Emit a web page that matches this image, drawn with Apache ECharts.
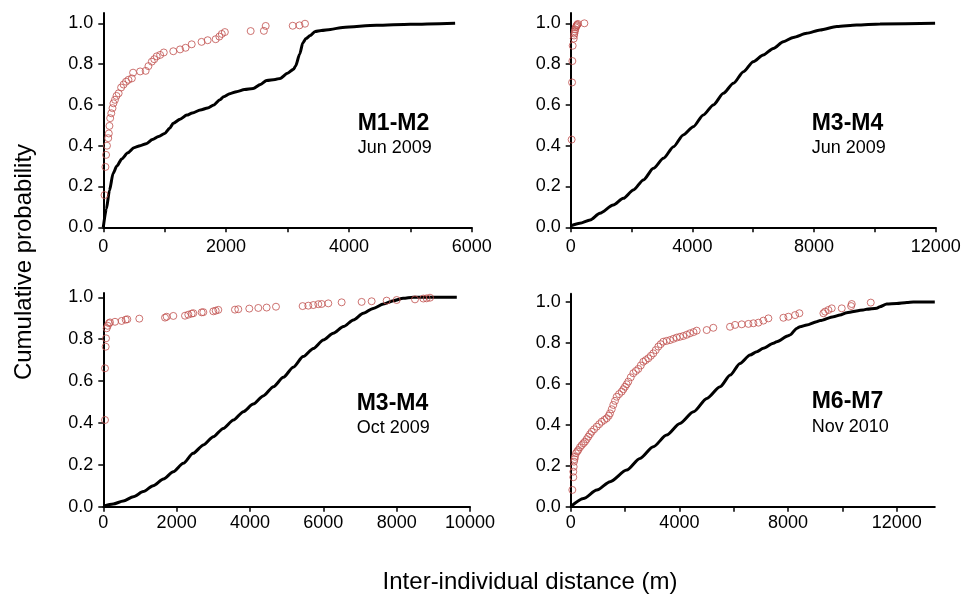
<!DOCTYPE html>
<html><head><meta charset="utf-8">
<script src="https://cdn.jsdelivr.net/npm/echarts@6/dist/echarts.min.js"></script>
<style>html,body{margin:0;padding:0;background:#fff}#c{width:970px;height:597px}</style>
</head><body><div id="c"></div>
<script>
// ---- Panel A: M1-M2 Jun 2009 ----
var aCurveX = [0,50,100,160,220,300,400,500,600,700,800,900,1000,1080,1140,1250,1360,1450,1580,1700,1800,1900,1960,2060,2170,2300,2440,2560,2660,2800,2880,3000,3100,3130,3200,3250,3300,3370,3450,3550,3700,3900,4450,5000,5730];
var aCurveY = [0,0.09,0.18,0.265,0.30,0.335,0.365,0.39,0.40,0.41,0.43,0.445,0.46,0.485,0.51,0.53,0.55,0.56,0.575,0.585,0.60,0.625,0.64,0.655,0.665,0.675,0.68,0.70,0.72,0.725,0.73,0.755,0.775,0.79,0.85,0.905,0.925,0.94,0.96,0.965,0.97,0.98,0.99,0.995,1.0];
var aDotX = [20,35,45,60,80,90,100,112,130,150,165,190,215,250,290,330,370,410,465,485,600,690,735,790,830,870,925,985,1140,1250,1340,1440,1600,1700,1830,1890,1930,1980,2400,2615,2645,3085,3195,3285];
var aDotY = [0.158,0.296,0.355,0.40,0.437,0.46,0.497,0.535,0.559,0.584,0.608,0.625,0.644,0.657,0.685,0.70,0.714,0.723,0.73,0.758,0.764,0.767,0.79,0.812,0.824,0.838,0.845,0.857,0.863,0.872,0.88,0.897,0.909,0.917,0.922,0.935,0.948,0.957,0.962,0.963,0.987,0.988,0.99,0.998];

// ---- Panel B: M3-M4 Jun 2009 ----
var bCurveX = [0,300,640,960,1400,1730,2060,2390,2720,3050,3380,3700,4030,4360,4690,5020,5350,5680,6000,6330,6660,6990,7320,7760,8200,8750,9400,10170,11980];
var bCurveY = [0.007,0.02,0.036,0.069,0.109,0.142,0.183,0.232,0.289,0.338,0.395,0.453,0.493,0.551,0.60,0.657,0.706,0.763,0.812,0.845,0.877,0.91,0.931,0.951,0.967,0.984,0.992,0.997,1.0];
var bDotX = [30,45,55,65,100,110,120,135,150,165,185,200,215,235,450];
var bDotY = [0.43,0.71,0.815,0.89,0.925,0.94,0.95,0.96,0.97,0.98,0.985,0.99,0.993,0.997,1.0];

// ---- Panel C: M3-M4 Oct 2009 ----
var cCurveX = [0,270,545,820,1090,1360,1640,1910,2180,2450,2730,3000,3270,3550,3820,4090,4360,4640,4910,5180,5450,5730,6000,6270,6550,6820,7090,7360,7640,7910,8180,8450,9640];
var cCurveY = [0.003,0.013,0.027,0.048,0.072,0.10,0.132,0.167,0.207,0.255,0.295,0.334,0.374,0.414,0.454,0.49,0.529,0.573,0.618,0.666,0.717,0.756,0.796,0.828,0.86,0.892,0.924,0.947,0.968,0.984,0.995,1.0,1.0];
var cDotX = [46,46,65,74,93,120,155,183,319,500,610,655,982,1683,1728,1910,2228,2318,2410,2455,2683,2728,3000,3065,3136,3590,3681,3981,4227,4454,4709,5436,5590,5727,5863,5954,6136,6500,7045,7318,7727,8000,8500,8727,8818,8909];
var cDotY = [0.414,0.661,0.764,0.804,0.852,0.864,0.876,0.88,0.883,0.887,0.893,0.895,0.898,0.903,0.907,0.911,0.912,0.917,0.922,0.924,0.928,0.929,0.933,0.936,0.94,0.941,0.943,0.946,0.949,0.951,0.955,0.958,0.96,0.963,0.967,0.968,0.971,0.976,0.978,0.981,0.984,0.987,0.99,0.994,0.995,0.998];

// ---- Panel D: M6-M7 Nov 2010 ----
var dCurveX = [0,470,960,1450,2060,2550,3040,3530,4020,4520,5010,5500,5870,6230,6600,6850,7090,7460,7580,8010,8070,8320,8440,8690,9050,9180,9670,9910,10160,10770,10890,11260,11380,11630,12000,12370,12610,13400];
var dCurveY = [0,0.04,0.081,0.122,0.179,0.236,0.293,0.35,0.407,0.464,0.529,0.586,0.643,0.70,0.741,0.757,0.774,0.798,0.806,0.835,0.839,0.871,0.879,0.888,0.904,0.909,0.928,0.937,0.948,0.961,0.964,0.969,0.977,0.99,0.993,0.998,1.0,1.0];
var dDotX = [60,96,96,110,121,140,158,195,240,280,340,405,470,526,590,648,710,773,860,957,1050,1141,1240,1325,1400,1446,1510,1568,1630,1693,1780,1877,1940,1999,2060,2120,2210,2304,2400,2488,2580,2672,2760,2856,2950,3040,3130,3224,3310,3408,3530,3655,3780,3900,4020,4144,4270,4390,4520,4637,5005,5249,5863,6049,6295,6540,6724,6908,7092,7276,7828,8012,8258,8417,9300,9362,9485,9607,9975,10319,10344,11043];
var dDotY = [0.082,0.144,0.171,0.195,0.22,0.232,0.244,0.261,0.27,0.277,0.29,0.301,0.31,0.318,0.33,0.342,0.354,0.366,0.378,0.391,0.403,0.415,0.424,0.432,0.444,0.456,0.476,0.497,0.517,0.537,0.55,0.562,0.574,0.586,0.598,0.611,0.632,0.652,0.663,0.673,0.69,0.708,0.716,0.725,0.737,0.749,0.765,0.782,0.794,0.806,0.81,0.814,0.82,0.826,0.83,0.834,0.84,0.847,0.853,0.86,0.863,0.874,0.879,0.888,0.891,0.893,0.896,0.899,0.909,0.92,0.923,0.928,0.936,0.945,0.945,0.953,0.961,0.969,0.969,0.98,0.99,0.997];

var yTicks = [0,0.2,0.4,0.6,0.8,1.0];
var aXTicks = [0,1000,2000,3000,4000,5000,6000];
var aXLabels = [0,2000,4000,6000];
var bXTicks = [0,2000,4000,6000,8000,10000,12000];
var bXLabels = [0,4000,8000,12000];
var cXTicks = [0,2000,4000,6000,8000,10000];
var cXLabels = [0,2000,4000,6000,8000,10000];
var dXTicks = [0,2000,4000,6000,8000,10000,12000];
var dXLabels = [0,4000,8000,12000];

function zip(xs, ys){ return xs.map(function(x,i){ return [x, ys[i]]; }); }

var FONT = "'Liberation Sans', Arial, sans-serif";
var axisLine = {show:true, onZero:false, lineStyle:{color:'#000', width:2}};
function xAx(idx, max, ticks, labels, margin){
  return {type:'value', gridIndex:idx, min:0, max:max,
    axisLine:axisLine,
    axisTick:{show:true, inside:false, length:5, lineStyle:{color:'#000', width:1.5}, customValues:ticks},
    axisLabel:{show:true, margin:margin, color:'#000', fontSize:18, fontFamily:FONT, customValues:labels,
      formatter:function(v){ return String(Math.round(v)); }},
    splitLine:{show:false}};
}
function yAx(idx, max){
  return {type:'value', gridIndex:idx, min:0, max:max,
    axisLine:axisLine,
    axisTick:{show:true, inside:false, length:5, lineStyle:{color:'#000', width:1.5}, customValues:yTicks},
    axisLabel:{show:true, margin:10, color:'#000', fontSize:18, fontFamily:FONT, customValues:yTicks,
      formatter:function(v){ return v.toFixed(1); }},
    splitLine:{show:false}};
}
function curve(idx, data){
  return {type:'line', xAxisIndex:idx, yAxisIndex:idx, data:data, showSymbol:false, symbol:'none',
    smooth:0.25, smoothMonotone:'x',
    lineStyle:{color:'#000', width:3}, z:2, animation:false};
}
function dots(idx, data){
  return {type:'scatter', xAxisIndex:idx, yAxisIndex:idx, data:data, symbol:'circle', symbolSize:7,
    itemStyle:{color:'rgba(0,0,0,0)', borderColor:'#c0504d', borderWidth:1}, z:3, animation:false};
}
function txt(x, y, s, size, bold){
  return {type:'text', x:x, y:y, silent:true,
    style:{text:s, fill:'#000', font:(bold?'bold ':'')+size+'px '+FONT, textVerticalAlign:'middle', verticalAlign:'middle', textAlign:'left', align:'left'}};
}

var chart = echarts.init(document.getElementById('c'), null, {renderer:'canvas'});
chart.setOption({
  animation:false,
  backgroundColor:'#fff',
  grid:[
    {left:103.3, top:13.1, width:368.4, height:214.2},
    {left:570.7, top:13.1, width:365, height:214.2},
    {left:103.3, top:293.1, width:366.7, height:213.6},
    {left:570.7, top:293.8, width:364.1, height:212.9}
  ],
  xAxis:[ xAx(0,6000,aXTicks,aXLabels,11), xAx(1,12000,bXTicks,bXLabels,11), xAx(2,10000,cXTicks,cXLabels,7), xAx(3,13400,dXTicks,dXLabels,7) ],
  yAxis:[ yAx(0,1.05), yAx(1,1.05), yAx(2,1.02), yAx(3,1.04) ],
  series:[
    curve(0, zip(aCurveX,aCurveY)), dots(0, zip(aDotX,aDotY)),
    curve(1, zip(bCurveX,bCurveY)), dots(1, zip(bDotX,bDotY)),
    curve(2, zip(cCurveX,cCurveY)), dots(2, zip(cDotX,cDotY)),
    curve(3, zip(dCurveX,dCurveY)), dots(3, zip(dDotX,dDotY))
  ],
  graphic:[
    txt(357.7,123.3,'M1-M2',23,true), txt(357.7,148,'Jun 2009',18,false),
    txt(811.7,123.3,'M3-M4',23,true), txt(811.7,148,'Jun 2009',18,false),
    txt(356.7,403.8,'M3-M4',23,true), txt(356.7,428.3,'Oct 2009',18,false),
    txt(811.7,402,'M6-M7',23,true), txt(811.7,427,'Nov 2010',18,false),
    {type:'text', x:24, y:262, rotation:Math.PI/2, silent:true,
      style:{text:'Cumulative probability', fill:'#000', font:'24px '+FONT, textAlign:'center', align:'center', textVerticalAlign:'middle', verticalAlign:'middle'}},
    {type:'text', x:530, y:582, silent:true,
      style:{text:'Inter-individual distance (m)', fill:'#000', font:'24px '+FONT, textAlign:'center', align:'center', textVerticalAlign:'middle', verticalAlign:'middle'}}
  ]
});
</script></body></html>
